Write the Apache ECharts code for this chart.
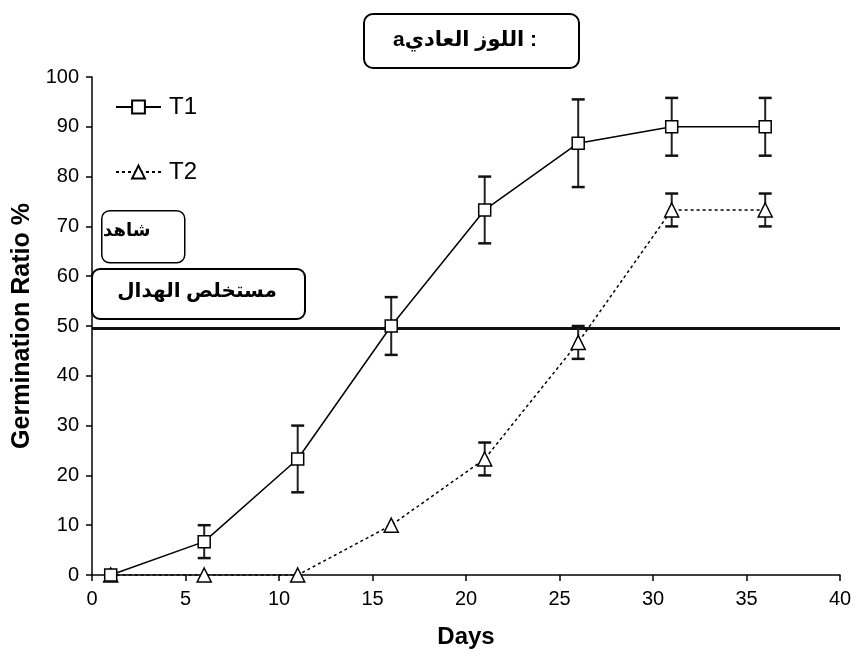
<!DOCTYPE html>
<html>
<head>
<meta charset="utf-8">
<script src="https://cdn.jsdelivr.net/npm/echarts@6/dist/echarts.min.js"></script>
<style>html,body{margin:0;padding:0;background:#fff}#c{width:859px;height:654px}</style>
</head>
<body>
<div id="c"></div>
<script>
const days = [1, 6, 11, 16, 21, 26, 31, 36];
const t1 = [0, 6.7, 23.3, 50, 73.3, 86.7, 90, 90];
const t1Err = [0, 3.3, 6.7, 5.8, 6.7, 8.8, 5.8, 5.8];
const t2 = [0, 0, 0, 10, 23.3, 46.7, 73.3, 73.3];
const t2Err = [0, 0, 0, 0, 3.3, 3.3, 3.3, 3.3];
const refLevel = 49.5;
const xRange = [0, 40];
const yRange = [0, 100];
const titleText = 'aاللوز العادي :';
const box1Text = 'شاهد';
const box2Text = 'مستخلص الهدال';

const FONT = '"Liberation Sans", Arial, "DejaVu Sans", sans-serif';

function errData(vals, errs) {
  const out = [];
  for (let i = 0; i < days.length; i++) {
    if (errs[i] > 0) out.push([days[i], vals[i] - errs[i], vals[i] + errs[i]]);
  }
  return out;
}

function errRender(params, api) {
  const x = api.value(0);
  const lo = api.coord([x, api.value(1)]);
  const hi = api.coord([x, api.value(2)]);
  const w = 6.5;
  return {
    type: 'group',
    children: [
      { type: 'line', shape: { x1: lo[0], y1: lo[1], x2: hi[0], y2: hi[1] }, style: { stroke: '#222', lineWidth: 2 } },
      { type: 'line', shape: { x1: lo[0] - w, y1: lo[1], x2: lo[0] + w, y2: lo[1] }, style: { stroke: '#111', lineWidth: 2.5 } },
      { type: 'line', shape: { x1: hi[0] - w, y1: hi[1], x2: hi[0] + w, y2: hi[1] }, style: { stroke: '#111', lineWidth: 2.5 } }
    ]
  };
}

const chart = echarts.init(document.getElementById('c'), null, { renderer: 'canvas' });
chart.setOption({
  animation: false,
  backgroundColor: '#fff',
  grid: { left: 92, right: 19, top: 77, bottom: 77 },
  legend: {
    data: ['T1', 'T2'],
    orient: 'vertical',
    left: 110,
    top: 90,
    itemWidth: 45,
    itemHeight: 16,
    itemGap: 41,
    textStyle: { fontFamily: FONT, fontSize: 24, color: '#000', padding: [0, 0, 0, 3] }
  },
  xAxis: {
    type: 'value', min: xRange[0], max: xRange[1], interval: 5,
    name: 'Days', nameLocation: 'middle', nameGap: 50,
    nameTextStyle: { fontFamily: FONT, fontSize: 24, fontWeight: 'bold', color: '#000' },
    axisLine: { show: true, lineStyle: { color: '#000', width: 1.5 } },
    axisTick: { show: true, length: 6, lineStyle: { color: '#000', width: 1.5 } },
    axisLabel: { fontFamily: FONT, fontSize: 20, color: '#000', margin: 14 },
    splitLine: { show: false }
  },
  yAxis: {
    type: 'value', min: yRange[0], max: yRange[1], interval: 10,
    name: 'Germination Ratio %', nameLocation: 'middle', nameGap: 57, nameRotate: 90,
    nameTextStyle: { fontFamily: FONT, fontSize: 25, fontWeight: 'bold', color: '#000' },
    axisLine: { show: true, lineStyle: { color: '#000', width: 1.5 } },
    axisTick: { show: true, length: 6, lineStyle: { color: '#000', width: 1.5 } },
    axisLabel: { fontFamily: FONT, fontSize: 20, color: '#000', margin: 13 },
    splitLine: { show: false }
  },
  series: [
    {
      name: 'ref', type: 'line', data: [[xRange[0], refLevel], [xRange[1], refLevel]],
      symbol: 'none', lineStyle: { color: '#111', width: 3 }, z: 1, silent: true
    },
    {
      name: 'T1err', type: 'custom', renderItem: errRender, data: errData(t1, t1Err), z: 2, silent: true
    },
    {
      name: 'T2err', type: 'custom', renderItem: errRender, data: errData(t2, t2Err), z: 2, silent: true
    },
    {
      name: 'T2', type: 'line', data: days.map((d, i) => [d, t2[i]]),
      symbol: 'triangle', symbolSize: 14, showAllSymbol: true,
      lineStyle: { color: '#000', width: 1.5, type: [3, 3] },
      itemStyle: { color: '#fff', borderColor: '#000', borderWidth: 1.5 },
      z: 3
    },
    {
      name: 'T1', type: 'line', data: days.map((d, i) => [d, t1[i]]),
      symbol: 'rect', symbolSize: 12, showAllSymbol: true,
      lineStyle: { color: '#000', width: 1.5 },
      itemStyle: { color: '#fff', borderColor: '#000', borderWidth: 1.5 },
      z: 4
    }
  ],
  graphic: [
    {
      type: 'rect', left: 363, top: 13, z: 10,
      shape: { width: 215, height: 54, r: 9 },
      style: { fill: '#fff', stroke: '#000', lineWidth: 2 }
    },
    {
      type: 'text', x: 465, y: 40, z: 11,
      style: { text: titleText, font: 'bold 21px ' + FONT, fill: '#000', align: 'center', verticalAlign: 'middle' }
    },
    {
      type: 'rect', left: 101, top: 210, z: 10,
      shape: { width: 83, height: 52, r: 8 },
      style: { fill: '#fff', stroke: '#000', lineWidth: 1.5 }
    },
    {
      type: 'text', x: 103, y: 231, z: 11,
      style: { text: box1Text, font: 'bold 18px ' + FONT, fill: '#000', align: 'left', verticalAlign: 'middle' }
    },
    {
      type: 'rect', left: 91, top: 268, z: 10,
      shape: { width: 213, height: 50, r: 8 },
      style: { fill: '#fff', stroke: '#000', lineWidth: 2 }
    },
    {
      type: 'text', x: 197, y: 291, z: 11,
      style: { text: box2Text, font: 'bold 20px ' + FONT, fill: '#000', align: 'center', verticalAlign: 'middle' }
    }
  ]
});
</script>
</body>
</html>
